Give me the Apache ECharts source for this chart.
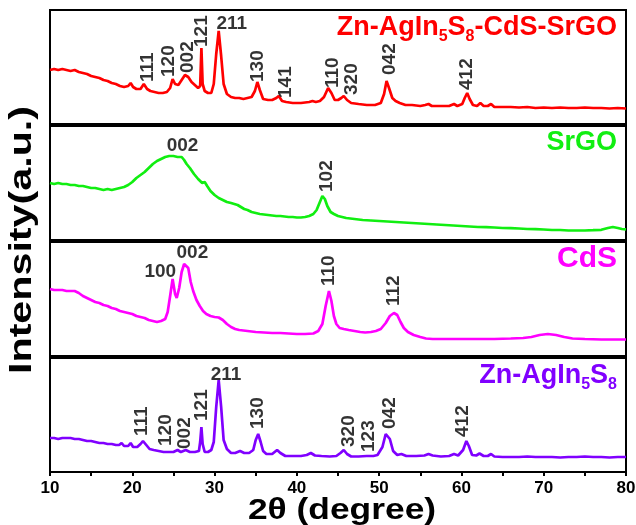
<!DOCTYPE html>
<html><head><meta charset="utf-8">
<script src="https://cdn.jsdelivr.net/npm/echarts/dist/echarts.min.js"></script>
<style>html,body{margin:0;padding:0;background:#fff}#c{width:636px;height:525px}</style>
</head><body><div id="c"></div>
<script>
// ---- data: [2theta (degree), intensity (a.u.)] ----
const hybrid = [[10,54],[10.5,55],[11,54],[11.5,55],[12,54],[12.5,53],[13,54],[13.5,52],[14,51],[14.5,50],[15,48],[15.5,47],[16,46],[16.5,44],[17,43],[17.5,41],[18,40],[18.5,38],[19,37],[19.5,38],[19.8,41],[20.1,37],[20.5,35],[21,35],[21.4,40],[21.8,35],[22.2,33],[22.7,32],[23.2,31],[23.7,31],[24.2,32],[24.6,36],[24.9,45],[25.2,40],[25.6,39],[26,44],[26.4,49],[26.8,47],[27.2,42],[27.6,39],[28,36],[28.25,38],[28.4,76],[28.55,40],[28.8,33],[29.2,31],[29.6,31],[29.9,40],[30.2,70],[30.5,93],[30.8,68],[31.1,40],[31.5,30],[32,27],[32.5,26],[33,26],[33.5,25],[34,26],[34.5,27],[34.9,33],[35.2,42],[35.5,34],[35.9,25],[36.5,24],[37,24],[37.5,26],[37.8,28],[38.2,23],[38.7,22],[39.5,21],[40.5,21],[41.5,22],[41.9,23],[42.3,22],[42.8,23],[43.3,27],[43.8,36],[44.2,31],[44.6,24],[45,24],[45.4,26],[45.7,28],[46.1,24],[46.6,21],[47.5,20],[48.5,19],[49.5,19],[50.2,21],[50.6,30],[50.9,43],[51.2,36],[51.6,26],[52,23],[52.5,21],[53.2,19],[54,19],[55,18],[55.6,19],[56,20],[56.4,18],[57.5,18],[58.5,18],[59.1,20],[59.5,18],[60.1,20],[60.4,26],[60.7,31],[61,25],[61.4,19],[61.9,18],[62.3,21],[62.7,18],[63.2,18],[63.6,20],[64,17],[65,17],[66,17],[67,16.5],[68,17],[69,16],[70,16.5],[71,16],[72,16.5],[73,16],[74,16],[75,16.5],[76,16],[77,16],[78,15.5],[79,16],[80,15.5]];
const srgo = [[10,57],[10.5,56],[11,57],[11.5,56],[12,56],[12.5,55],[13,55],[13.5,54],[14,54],[14.5,53],[15,52],[15.5,52],[16,51],[16.5,50],[17,51],[17.5,50],[18,51],[18.5,52],[19,53],[19.5,55],[20,58],[20.5,62],[21,65],[21.5,68],[22,72],[22.5,76],[23,79],[23.5,81],[24,83],[24.5,84],[25,84],[25.5,83],[26,83],[26.3,80],[26.6,76],[27,72],[27.5,66],[28,61],[28.5,57],[28.8,58],[29.1,54],[29.5,49],[30,45],[30.5,42],[31,40],[31.5,38],[32,37],[32.4,36],[32.8,35],[33.2,33],[33.6,31],[34,30],[34.5,28],[35,27],[35.5,26],[36,25.5],[36.5,25],[37,24.5],[37.5,24],[38,24],[38.5,23.5],[39,23],[39.5,23],[40,22.5],[40.5,22.5],[41,23],[41.5,24],[42,26],[42.4,30],[42.8,38],[43.1,44],[43.4,41],[43.7,34],[44.1,28],[44.5,26],[45,24],[45.5,23],[46,22],[47,21],[48,20],[49,19.5],[50,19],[51,18.5],[52,18],[53,17.5],[54,17],[55,16.5],[56,16],[57,15.5],[58,15],[59,14.5],[60,14],[61,13.5],[62,13],[63,12.8],[64,12.5],[65,12],[66,11.8],[67,11.5],[68,11],[69,10.8],[70,10.5],[71,10],[72,10],[73,9.5],[74,9.5],[75,9.5],[76,9.8],[77,10.2],[77.8,12],[78.4,13],[79,12],[79.5,11],[80,10.7]];
const cds = [[10,67],[10.5,66],[11,66],[11.5,66],[12,65],[12.5,65],[13,65],[13.5,63],[14,60],[14.5,58],[15,56],[15.5,54],[16,53],[16.5,51],[17,50],[17.5,48],[18,47],[18.5,45],[19,44],[19.5,43],[20,42],[20.5,40],[21,39],[21.5,38],[22,36],[22.5,35],[23,34],[23.5,35],[24,37],[24.3,44],[24.6,60],[24.9,77],[25.2,62],[25.4,58],[25.7,68],[26,84],[26.3,92],[26.5,94],[26.8,88],[27.1,74],[27.4,65],[27.8,56],[28.2,50],[28.6,45],[29,42],[29.5,40],[30,39],[30.5,38.5],[31,36],[31.5,32],[32,29],[32.5,27],[33,26],[34,25],[35,24],[36,23.5],[37,23],[38,23],[39,22.5],[40,22],[41,22],[42,22.5],[42.6,25],[43.1,32],[43.5,50],[43.9,65],[44.2,55],[44.5,40],[44.8,32],[45.2,28],[45.7,27],[46.3,26],[47,25],[47.7,24],[48.3,23.5],[49,24],[49.6,25],[50.2,27],[50.8,33],[51.3,40],[51.8,43],[52.2,41],[52.6,34],[53,28],[53.5,24],[54.2,21],[55,19],[55.7,17.5],[56.5,17],[58,17],[60,17],[62,17],[64,17],[66,17.5],[67.5,18],[68.5,19],[69.5,21],[70.5,22],[71.5,21],[72.5,19],[73.5,17.5],[75,17],[77,16.5],[78.5,16.5],[80,16.5]];
const zais = [[10,34],[10.5,34],[11,33],[11.5,34],[12,34],[12.5,34],[13,33],[13.5,33],[14,32],[14.5,31],[15,31],[15.5,30],[16,29],[16.5,29],[17,28],[17.5,28],[18,27],[18.4,27],[18.7,29],[19,26],[19.5,26],[19.8,29],[20.1,25],[20.6,25],[21,28],[21.3,31],[21.7,27],[22.1,23],[22.6,22],[23.2,21],[23.8,20],[24.4,20],[25,20],[25.5,22],[25.9,20],[26.5,22],[27,20],[27.6,20],[28.1,21],[28.25,30],[28.4,45],[28.55,28],[28.8,20],[29.2,20],[29.6,22],[29.9,30],[30.2,65],[30.5,92],[30.8,65],[31.1,32],[31.5,23],[32,19],[32.5,19],[33.1,21],[33.6,19],[34.2,19],[34.7,22],[35,32],[35.3,38],[35.6,30],[35.9,21],[36.3,18],[37,18],[37.6,22],[38,19],[38.6,16],[39.5,16],[40.5,16],[41.2,17],[41.7,19],[42.2,16.5],[43,16],[44,15.5],[44.8,16],[45.3,19],[45.7,22],[46.1,18],[46.6,15.5],[47.5,15.5],[48.5,16],[49.3,16],[49.8,17],[50.4,25],[50.8,38],[51,40],[51.3,33],[51.7,21],[52.2,17],[52.7,18],[53.3,16],[54.5,16],[55.5,16.5],[56,18],[56.5,16.5],[57.5,15.5],[58.5,16],[59.1,18],[59.6,16.5],[60.2,22],[60.6,31],[60.9,26],[61.3,17],[61.8,16.5],[62.2,18.5],[62.7,16],[63.2,16],[63.6,18],[64,15.5],[65,15],[66,15],[67,15],[68,15.5],[69,15],[70,15],[71,15],[72,14.5],[73,15],[74,15],[75,15.5],[76,15],[77,15],[78,14.5],[79,15],[80,15]];

// peak index labels: names and anchor [2theta, intensity]
const hybridTags = ['111','120','002','121','130','141','110','320','042','412'];
const hybridTagAt = [[21.9,42],[24.4,47],[26.7,51],[28.4,77],[35.3,42],[38.6,26],[44.4,36],[46.7,29],[51.3,49],[60.6,34]];
const hybridFlat = ['211'];
const hybridFlatAt = [[32.1,100]];
const srgoTags = ['102'];
const srgoTagAt = [[43.6,48]];
const srgoFlat = ['002'];
const srgoFlatAt = [[26.1,94]];
const cdsTags = ['110','112'];
const cdsTagAt = [[43.9,70],[51.8,50]];
const cdsFlat = ['100','002'];
const cdsFlatAt = [[23.4,84],[27.3,103]];
const zaisTags = ['111','120','002','121','130','320','123','042','412'];
const zaisTagAt = [[21.1,36],[24.1,26],[26.4,23],[28.4,51],[35.3,43],[46.3,25],[48.7,20],[51.3,43],[60.2,35]];
const zaisFlat = ['211'];
const zaisFlatAt = [[31.4,97]];

const xTicks = [10,20,30,40,50,60,70,80];

const FONT = '"Liberation Sans", Arial, Helvetica, sans-serif';
const COLORS = ['#ff0000', '#11ee11', '#ff00ff', '#8000ff'];
const tops = [10, 126, 242, 358];
const PH = 114;

const chart = echarts.init(document.getElementById('c'), null, {renderer: 'canvas'});

const grids = tops.map(t => ({left: 50, right: 10, top: t, height: PH, show: true, borderColor: '#000', borderWidth: 2, backgroundColor: 'transparent', containLabel: false, outerBoundsMode: 'none'}));

const xAxes = tops.map((t, i) => {
  const last = i === 3;
  return {
    type: 'value', gridIndex: i, min: xTicks[0], max: xTicks[xTicks.length - 1], interval: 10,
    axisLine: {show: last, onZero: false, lineStyle: {color: '#000', width: 2}},
    axisTick: {show: last, inside: false, length: 4, lineStyle: {color: '#000', width: 2}},
    minorTick: {show: last, splitNumber: 2, length: 4, lineStyle: {color: '#000', width: 2}},
    axisLabel: {show: last, color: '#000', fontSize: 17, fontWeight: 'bold', fontFamily: FONT, margin: 8},
    splitLine: {show: false}, minorSplitLine: {show: false}
  };
});
const yAxes = tops.map((t, i) => ({type: 'value', gridIndex: i, min: 0, max: PH, show: false, splitLine: {show: false}}));

const curves = [hybrid, srgo, cds, zais];
const tags = [[hybridTags, hybridTagAt, hybridFlat, hybridFlatAt], [srgoTags, srgoTagAt, srgoFlat, srgoFlatAt], [cdsTags, cdsTagAt, cdsFlat, cdsFlatAt], [zaisTags, zaisTagAt, zaisFlat, zaisFlatAt]];

const series = [];
curves.forEach((d, i) => {
  series.push({type: 'line', xAxisIndex: i, yAxisIndex: i, data: d, showSymbol: false, symbol: 'none', silent: true,
    lineStyle: {color: COLORS[i], width: 2.7}, z: 2, animation: false});
});
function tagSeries(i, names, at, rotated) {
  return {type: 'scatter', xAxisIndex: i, yAxisIndex: i, symbolSize: 1, silent: true, z: 5, animation: false,
    itemStyle: {color: 'rgba(0,0,0,0)'},
    data: names.map((n, k) => ({name: n, value: at[k]})),
    label: {show: true, position: 'inside', formatter: '{b}', rotate: rotated ? 90 : 0,
      align: rotated ? 'left' : 'center', verticalAlign: 'middle',
      color: '#000', fontSize: 19, fontWeight: 'bold', fontFamily: FONT}};
}
tags.forEach((t, i) => {
  series.push(tagSeries(i, t[0], t[1], true));
  series.push(tagSeries(i, t[2], t[3], false));
});

function rich(color, size) {
  return {
    a: {color: color, fontSize: size, fontWeight: 'bold', fontFamily: FONT, lineHeight: 34, verticalAlign: 'middle'},
    s: {color: color, fontSize: 16, fontWeight: 'bold', fontFamily: FONT, lineHeight: 35, verticalAlign: 'bottom'}
  };
}
const titles = [
  {text: '{a|Zn-AgIn}{s|5}{a|S}{s|8}{a|-CdS-SrGO}', c: COLORS[0], f: 27},
  {text: '{a|SrGO}', c: COLORS[1], f: 27},
  {text: '{a|CdS}', c: COLORS[2], f: 30},
  {text: '{a|Zn-AgIn}{s|5}{a|S}{s|8}', c: COLORS[3], f: 27}
].map((o, i) => ({text: o.text, right: 19, top: tops[i], padding: 0, textStyle: {rich: rich(o.c, o.f)}}));

chart.setOption({
  animation: false,
  backgroundColor: '#fff',
  title: titles,
  grid: grids,
  xAxis: xAxes,
  yAxis: yAxes,
  series: series,
  graphic: [
    {type: 'text', x: 22, y: 240, rotation: Math.PI / 2, scaleX: 1.33, silent: true,
     style: {text: 'Intensity(a.u.)', fill: '#000', font: 'bold 31px ' + FONT, align: 'center', verticalAlign: 'middle'}},
    {type: 'text', x: 342, y: 511, scaleX: 1.22, silent: true,
     style: {text: '2θ (degree)', fill: '#000', font: 'bold 29px ' + FONT, align: 'center', verticalAlign: 'middle'}}
  ]
});
</script></body></html>
